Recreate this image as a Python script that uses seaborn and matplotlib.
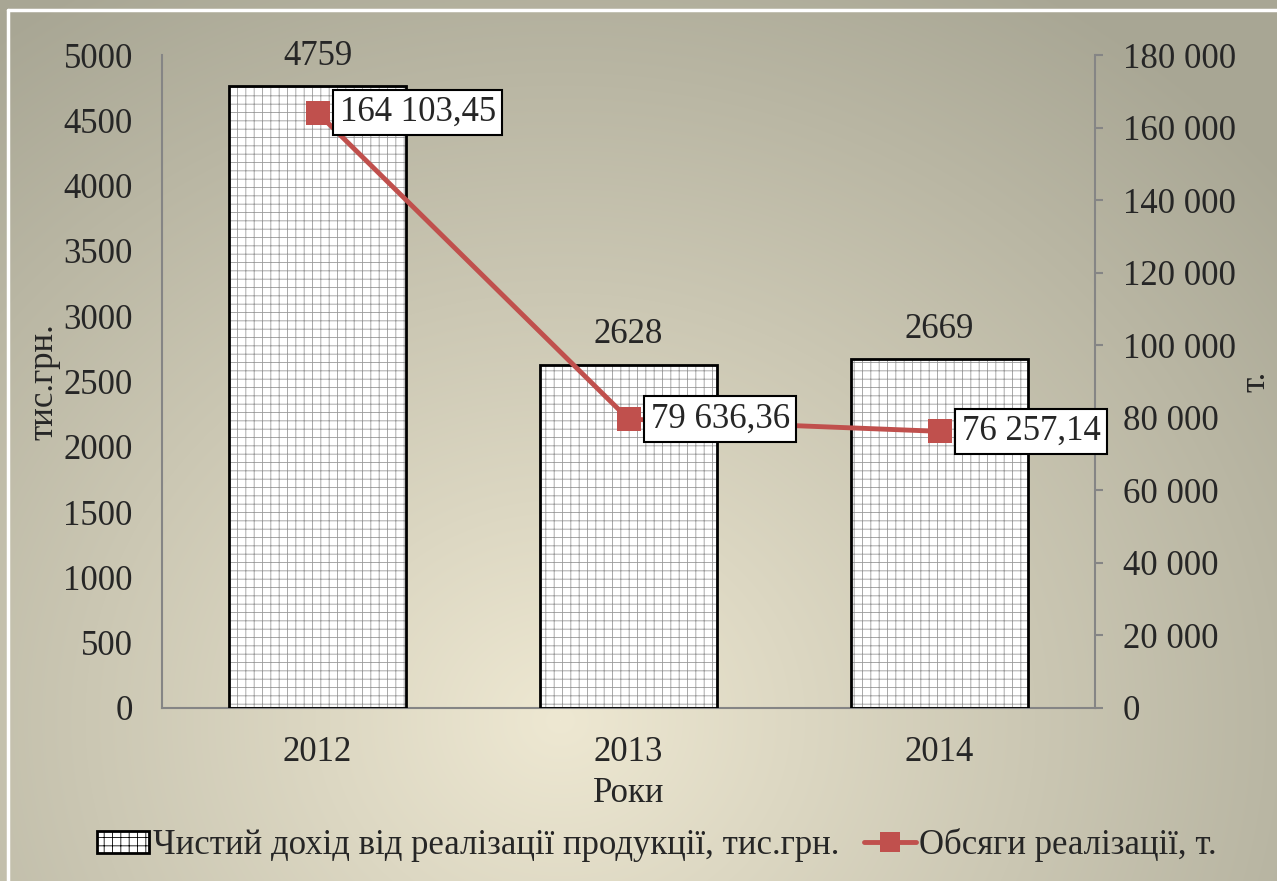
import numpy as np
import pandas as pd
import matplotlib
matplotlib.use("Agg")
import matplotlib.pyplot as plt
from matplotlib.patches import Patch
from matplotlib.lines import Line2D
from matplotlib.ticker import FuncFormatter, MultipleLocator
import seaborn as sns

# data
years = ["2012", "2013", "2014"]
income = [4759, 2628, 2669]                      # тис.грн.
volume = [164103.45, 79636.36, 76257.14]         # т.
income_name = "Чистий дохід від реалізації продукції, тис.грн."
volume_name = "Обсяги реалізації, т."

RED = "#C0504D"
FS = 25

sns.set_theme(style="white")
plt.rcParams["font.family"] = ["Liberation Serif", "DejaVu Serif"]
plt.rcParams["hatch.linewidth"] = 0.6

df = pd.DataFrame({"year": years, "income": income, "volume": volume})

fig = plt.figure(figsize=(12.77, 8.81), dpi=100)

# background gradient (beige centre, grey corners)
bg = fig.add_axes([0, 0, 1, 1], zorder=-10)
h, w = 881, 1277
yy, xx = np.mgrid[0:h, 0:w]
r = np.sqrt(((xx - 560) / 1000.0) ** 2 + ((yy - 720) / 900.0) ** 2)
r = np.clip(r / 0.95, 0, 1)
light = np.array([238, 232, 210]) / 255.0
dark = np.array([168, 166, 148]) / 255.0
img = light[None, None, :] * (1 - r[..., None]) + dark[None, None, :] * r[..., None]
bg.imshow(img, aspect="auto", extent=[0, 1, 0, 1], origin="upper")
bg.plot([8 / w, 8 / w], [0, 1 - 10 / h], color="white", lw=2.5)
bg.plot([8 / w, 1], [1 - 10 / h, 1 - 10 / h], color="white", lw=2.5)
bg.set_xlim(0, 1)
bg.set_ylim(0, 1)
bg.axis("off")

ax = fig.add_axes([162 / w, 1 - 708 / h, (1095 - 162) / w, (708 - 55) / h])
ax.patch.set_alpha(0)

sns.barplot(data=df, x="year", y="income", ax=ax, color="white", width=0.57,
            hatch="++", edgecolor="#9a9a9a", linewidth=0, zorder=2)
sns.barplot(data=df, x="year", y="income", ax=ax, fill=False, color="black",
            width=0.57, linewidth=2, zorder=3)
ax.bar_label(ax.containers[0], labels=[str(v) for v in income], padding=10,
             fontsize=FS)

ax.set_ylim(0, 5000)
ax.set_xlim(-0.5, 2.5)
ax.yaxis.set_major_locator(MultipleLocator(500))
ax.tick_params(axis="y", length=0, pad=21, labelsize=FS)
ax.tick_params(axis="x", length=0, pad=20, labelsize=FS)
ax.set_xlabel("Роки", fontsize=FS, labelpad=6)
ax.set_ylabel("тис.грн.", fontsize=FS, labelpad=2)
for s in ["top", "right"]:
    ax.spines[s].set_visible(False)
for s in ["left", "bottom"]:
    ax.spines[s].set_color("#858585")
    ax.spines[s].set_linewidth(1.5)

ax2 = ax.twinx()
sns.lineplot(x=[0, 1, 2], y=volume, ax=ax2, color=RED, lw=3.5, marker="s",
             markersize=17, markeredgewidth=0, zorder=5)
ax2.set_ylim(0, 180000)
ax2.yaxis.set_major_locator(MultipleLocator(20000))
ax2.yaxis.set_major_formatter(FuncFormatter(lambda v, p: f"{int(v):,}".replace(",", " ")))
ax2.tick_params(axis="y", length=6, width=1.5, color="#858585", pad=14,
                labelsize=FS, direction="out")
ax2.set_ylabel("т.", fontsize=FS)
ax2.yaxis.set_label_coords(1.155, 0.5)
for s in ["top", "left", "bottom"]:
    ax2.spines[s].set_visible(False)
ax2.spines["right"].set_color("#858585")
ax2.spines["right"].set_linewidth(1.5)

for i, v in enumerate(volume):
    txt = f"{v:,.2f}".replace(",", " ").replace(".", ",")
    ax2.annotate(txt, (i, v), xytext=(16, 0), textcoords="offset points",
                 ha="left", va="center", fontsize=FS, zorder=6,
                 bbox=dict(boxstyle="square,pad=0.18", fc="white", ec="black", lw=1.5))

handles = [
    Patch(facecolor="white", edgecolor="black", hatch="++", linewidth=2),
    Line2D([0], [0], color=RED, lw=3.5, marker="s", markersize=15, markeredgewidth=0),
]
fig.legend(handles, [income_name, volume_name], loc="center",
           bbox_to_anchor=(657 / w, 1 - 845 / h), ncol=2, frameon=False,
           fontsize=FS, handlelength=1.5, handleheight=0.6,
           handletextpad=0.1, columnspacing=0.7)

fig.savefig("out.png", dpi=100)
